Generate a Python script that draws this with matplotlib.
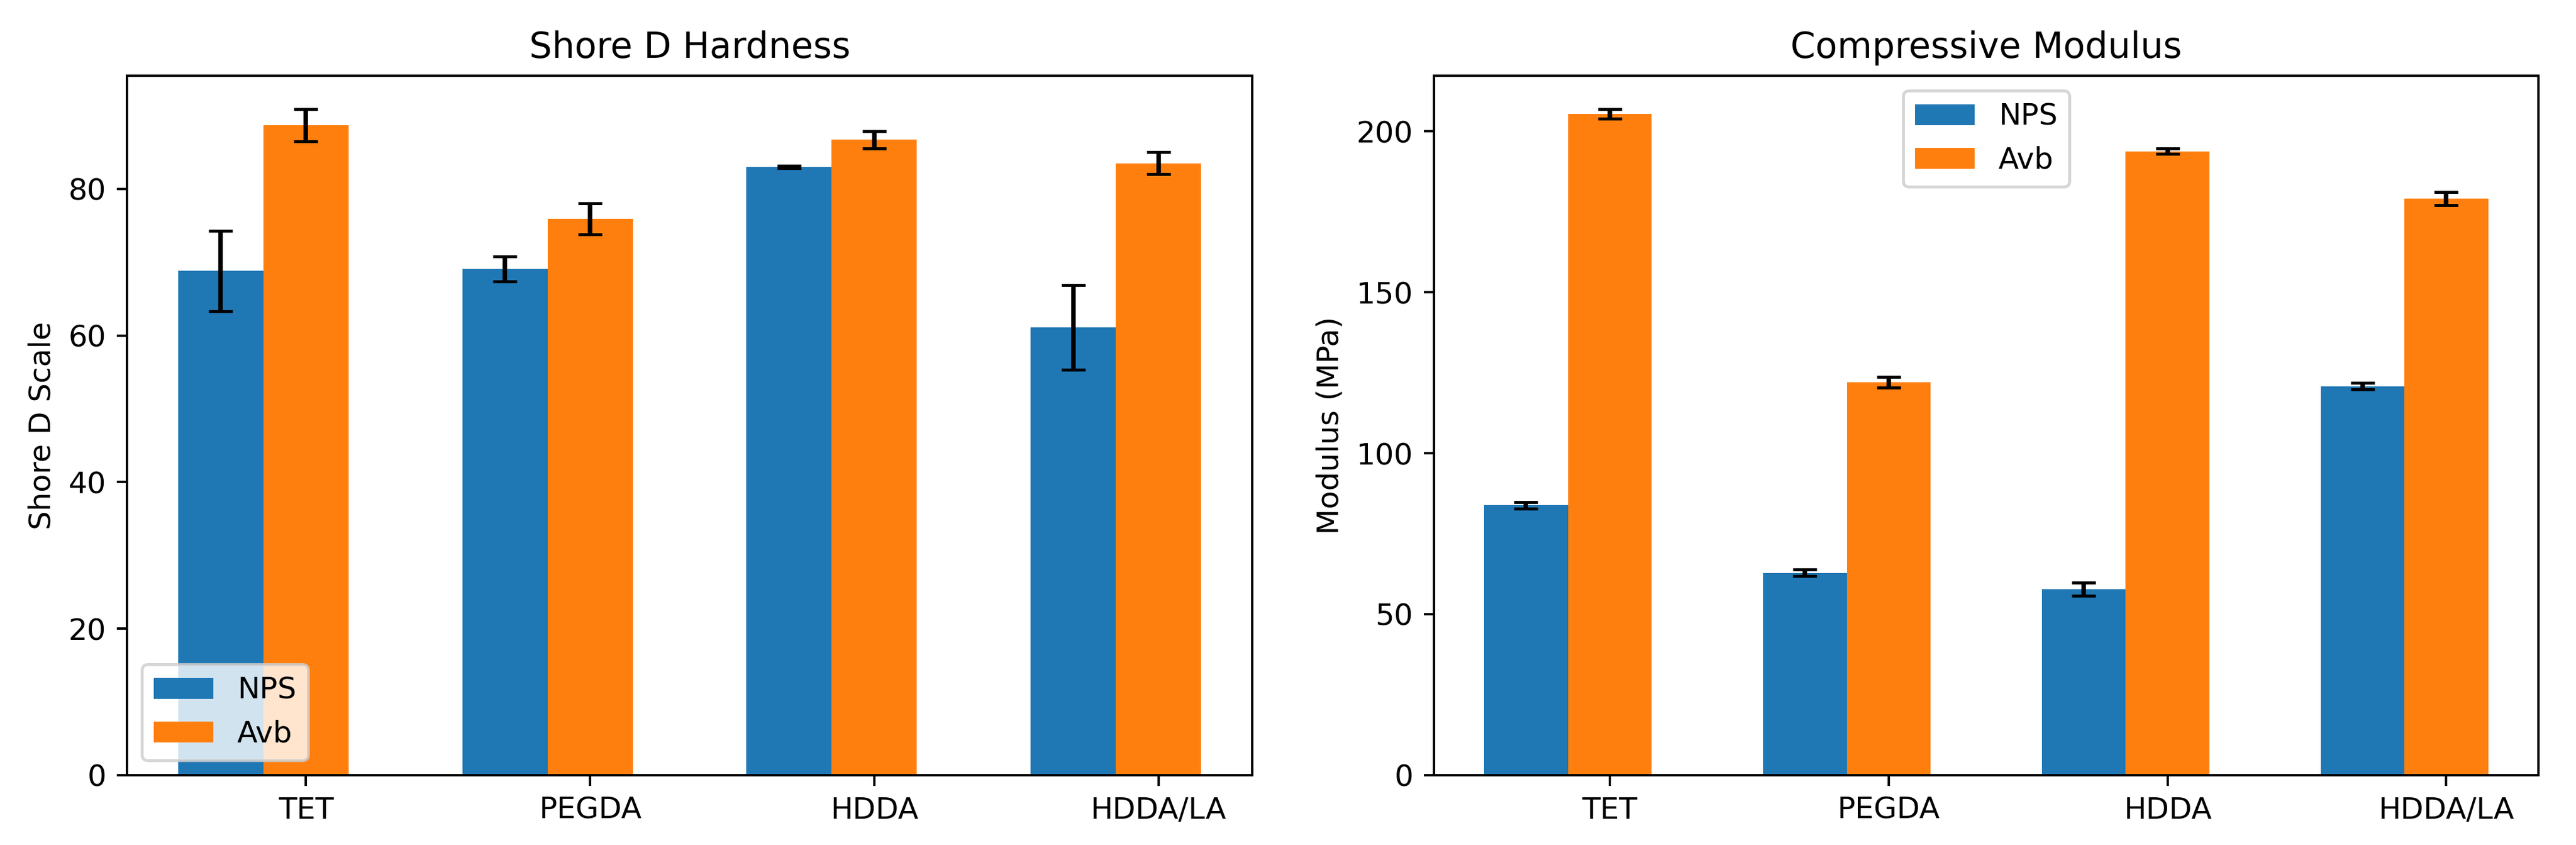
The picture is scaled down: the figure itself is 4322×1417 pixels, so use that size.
import numpy as np
import matplotlib
matplotlib.use("Agg")
import matplotlib.pyplot as plt
from matplotlib.ticker import MultipleLocator

materials = ["TET", "PEGDA", "HDDA", "HDDA/LA"]

# Shore D hardness
hard_nps = [68.8, 69.1, 83.0, 61.1]
hard_nps_err = [5.5, 1.7, 0.15, 5.8]
hard_avb = [88.7, 75.9, 86.7, 83.5]
hard_avb_err = [2.2, 2.1, 1.2, 1.5]

# Compressive modulus (MPa)
mod_nps = [83.8, 62.8, 57.8, 120.8]
mod_nps_err = [1.0, 1.0, 2.0, 1.0]
mod_avb = [205.4, 122.1, 193.8, 179.1]
mod_avb_err = [1.5, 1.7, 0.8, 2.0]

x = np.arange(len(materials))
width = 0.3

fig = plt.figure(figsize=(4322 / 360, 1417 / 360), dpi=360)
ax1 = fig.add_axes([0.0493, 0.0826, 0.4368, 0.8278])
ax2 = fig.add_axes([0.5567, 0.0826, 0.4287, 0.8278])

# Hardness
ax1.bar(x - width, hard_nps, width, yerr=hard_nps_err, capsize=4, label="NPS")
ax1.bar(x, hard_avb, width, yerr=hard_avb_err, capsize=4, label="Avb")
ax1.set_title("Shore D Hardness")
ax1.set_ylabel("Shore D Scale")
ax1.set_xticks(x)
ax1.set_xticklabels(materials)
ax1.legend(loc="lower left")

# Modulus
ax2.bar(x - width, mod_nps, width, yerr=mod_nps_err, capsize=4, label="NPS")
ax2.bar(x, mod_avb, width, yerr=mod_avb_err, capsize=4, label="Avb")
ax2.set_title("Compressive Modulus")
ax2.set_ylabel("Modulus (MPa)")
ax2.set_xticks(x)
ax2.set_xticklabels(materials)
ax2.yaxis.set_major_locator(MultipleLocator(50))
ax2.legend(loc="upper center")

fig.savefig("out.png", dpi=360)
